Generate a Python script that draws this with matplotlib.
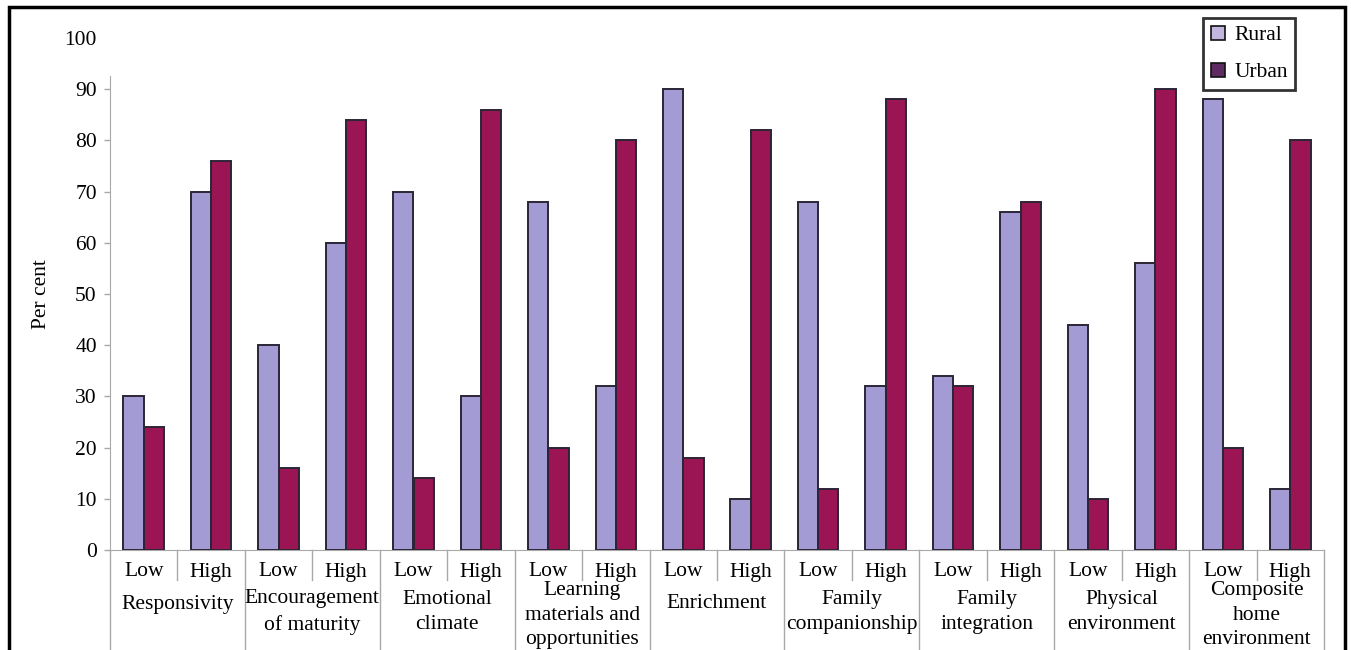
import matplotlib
matplotlib.use("Agg")
import matplotlib.pyplot as plt
from matplotlib.patches import Patch, Rectangle
import numpy as np

plt.rcParams['font.family'] = ['Liberation Serif', 'DejaVu Serif']

categories = ["Responsivity", "Encouragement\nof maturity", "Emotional\nclimate",
              "Learning\nmaterials and\nopportunities", "Enrichment", "Family\ncompanionship",
              "Family\nintegration", "Physical\nenvironment", "Composite\nhome\nenvironment"]
levels = ["Low", "High"]
rural = [30, 70, 40, 60, 70, 30, 68, 32, 90, 10, 68, 32, 34, 66, 44, 56, 88, 12]
urban = [24, 76, 16, 84, 14, 86, 20, 80, 18, 82, 12, 88, 32, 68, 10, 90, 20, 80]
series_names = ["Rural", "Urban"]
yticks = [0, 10, 20, 30, 40, 50, 60, 70, 80, 90, 100]

rural_color = "#A39BD3"
urban_color = "#9B1555"
edge_color = "#2B2536"
grid_gray = "#A8A8A8"
FS = 15.5

W, H = 1351, 650
fig = plt.figure(figsize=(W / 100, H / 100), dpi=100)
ax = fig.add_axes([110 / W, 100 / H, (1324 - 110) / W, 512 / H])

n = len(rural)
centers = np.arange(n) + 0.5
bw = 0.30
ax.bar(centers - 0.15, rural, width=bw, color=rural_color, edgecolor=edge_color, linewidth=1.4, zorder=3)
ax.bar(centers + 0.15, urban, width=bw, color=urban_color, edgecolor=edge_color, linewidth=1.4, zorder=3)

ax.set_xlim(0, n)
ax.set_ylim(0, 100)
ax.set_yticks(yticks)
ax.set_yticklabels([str(v) for v in yticks], fontsize=FS)
ax.tick_params(axis='y', length=4.5, width=1, color=grid_gray, pad=5)
ax.yaxis.get_major_ticks()[-1].tick1line.set_visible(False)
ax.set_xticks([])
for s in ["top", "right"]:
    ax.spines[s].set_visible(False)
ax.spines['left'].set_color(grid_gray)
ax.spines['left'].set_bounds(0, 92.5)
ax.spines['bottom'].set_color(grid_gray)

ax.set_ylabel("Per cent", fontsize=FS, labelpad=10)

trans = ax.get_xaxis_transform()
px = 1 / 512.0
# Low / High labels
for i in range(n):
    ax.text(centers[i], -22 * px, levels[i % 2], transform=trans, ha='center', va='center', fontsize=FS)
# separators
for i in range(n + 1):
    if i % 2 == 0:
        ax.plot([i, i], [0, -100 * px], transform=trans, color=grid_gray, lw=1, clip_on=False)
    else:
        ax.plot([i, i], [0, -30 * px], transform=trans, color=grid_gray, lw=1, clip_on=False)
# category labels
for k, cat in enumerate(categories):
    nl = cat.count("\n") + 1
    cy = {1: 604, 2: 612, 3: 615}[nl]
    ax.text(2 * k + 1, -(cy - 550) * px, cat, transform=trans, ha='center', va='center',
            fontsize=FS, linespacing=1.42)

# legend
handles = [Patch(facecolor="#C2B6DE", edgecolor="#111111", lw=1.2),
           Patch(facecolor="#5E2A62", edgecolor="#111111", lw=1.2)]
leg = fig.legend(handles, series_names, loc='upper left',
                 bbox_to_anchor=(1203 / W, 1 - 18 / H), frameon=True, fontsize=FS,
                 handlelength=0.65, handleheight=0.65, handletextpad=0.45,
                 labelspacing=0.8, borderpad=0.35, fancybox=False, borderaxespad=0)
leg.get_frame().set_edgecolor("black")
leg.get_frame().set_linewidth(2)

# figure border
fig.patches.append(Rectangle((9 / W, -0.05), (1345 - 9) / W, 1.05 - 7 / H, transform=fig.transFigure,
                             fill=False, edgecolor="black", linewidth=2.5))

fig.savefig("out.png", dpi=100)
